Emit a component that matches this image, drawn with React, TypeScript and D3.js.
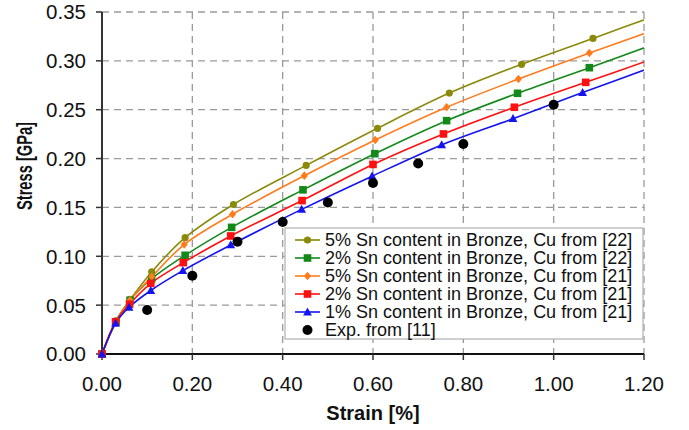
import * as d3 from 'd3';

// series data (strain in %, stress in GPa)
const olStrain = [0, 0.031, 0.063, 0.11, 0.184, 0.291, 0.452, 0.61, 0.769, 0.929, 1.087, 1.245];
const olStress = [0, 0.034, 0.056, 0.084, 0.119, 0.153, 0.193, 0.231, 0.267, 0.2965, 0.323, 0.3495];
const grStrain = [0, 0.031, 0.062, 0.11, 0.184, 0.287, 0.445, 0.604, 0.763, 0.92, 1.079, 1.237];
const grStress = [0, 0.033, 0.055, 0.077, 0.101, 0.1296, 0.168, 0.205, 0.2388, 0.2668, 0.293, 0.3195];
const orStrain = [0, 0.031, 0.062, 0.11, 0.182, 0.289, 0.448, 0.605, 0.763, 0.922, 1.079, 1.237];
const orStress = [0, 0.033, 0.055, 0.079, 0.112, 0.143, 0.1825, 0.219, 0.2525, 0.2814, 0.308, 0.334];
const rdStrain = [0, 0.03, 0.061, 0.108, 0.18, 0.285, 0.443, 0.6, 0.756, 0.913, 1.071, 1.229];
const rdStress = [0, 0.033, 0.051, 0.0723, 0.0935, 0.1208, 0.157, 0.194, 0.2252, 0.2525, 0.278, 0.3035];
const blStrain = [0, 0.03, 0.06, 0.108, 0.179, 0.285, 0.442, 0.598, 0.752, 0.91, 1.064, 1.218];
const blStress = [0, 0.0314, 0.0478, 0.065, 0.0853, 0.1116, 0.148, 0.182, 0.214, 0.2408, 0.2675, 0.2935];

const expStrain = [0.1, 0.2, 0.3, 0.4, 0.5, 0.6, 0.7, 0.8, 1.0];
const expStress = [0.045, 0.08, 0.115, 0.135, 0.155, 0.175, 0.195, 0.215, 0.255];

const xTicks = [0, 0.2, 0.4, 0.6, 0.8, 1.0, 1.2];
const yTicks = [0, 0.05, 0.1, 0.15, 0.2, 0.25, 0.3, 0.35];

const series = [
  { name: '5% Sn content in Bronze, Cu from [22]', color: '#8a8a0a', shape: 'circle', xs: olStrain, ys: olStress },
  { name: '2% Sn content in Bronze, Cu from [22]', color: '#13891a', shape: 'square', xs: grStrain, ys: grStress },
  { name: '5% Sn content in Bronze, Cu from [21]', color: '#ff7b1c', shape: 'diamond', xs: orStrain, ys: orStress },
  { name: '2% Sn content in Bronze, Cu from [21]', color: '#ff1010', shape: 'square', xs: rdStrain, ys: rdStress },
  { name: '1% Sn content in Bronze, Cu from [21]', color: '#1414f0', shape: 'triangle', xs: blStrain, ys: blStress },
];

const W = 689, H = 430;
const L = 102, R = 644, T = 12, B = 354;
const font = 'Liberation Sans, Arial, sans-serif';

function Marker({ shape, color, x, y }: { shape: string; color: string; x: number; y: number }) {
  if (shape === 'circle') return <circle cx={x} cy={y} r={3.6} fill={color} />;
  if (shape === 'square') return <rect x={x - 3.8} y={y - 3.8} width={7.6} height={7.6} fill={color} />;
  if (shape === 'diamond')
    return <path d={`M${x},${y - 4.3}L${x + 3.6},${y}L${x},${y + 4.3}L${x - 3.6},${y}Z`} fill={color} />;
  return <path d={`M${x},${y - 4.6}L${x + 4.4},${y + 3.4}L${x - 4.4},${y + 3.4}Z`} fill={color} />;
}

export default function App() {
  const x = d3.scaleLinear().domain([0, 1.2]).range([L, R]);
  const y = d3.scaleLinear().domain([0, 0.35]).range([B, T]);
  const line = d3.line<[number, number]>()
    .x(d => x(d[0]))
    .y(d => y(d[1]))
    .curve(d3.curveCatmullRom.alpha(0.5));

  const legendRows = [...series.map(s => ({ name: s.name, color: s.color, shape: s.shape, exp: false })),
    { name: 'Exp. from [11]', color: '#000', shape: 'circle', exp: true }];

  return (
    <svg width={W} height={H} style={{ position: 'absolute', left: 0, top: 0, background: '#fff' }} fontFamily={font}>
      <defs>
        <clipPath id="plot"><rect x={L} y={T - 2} width={R - L} height={B - T + 2} /></clipPath>
      </defs>
      {/* grid */}
      {yTicks.map(t => (
        <line key={'gy' + t} x1={L} x2={R} y1={y(t)} y2={y(t)} stroke="#9a9a9a" strokeDasharray="7,5" strokeWidth={1.3} />
      ))}
      {xTicks.map(t => (
        <line key={'gx' + t} x1={x(t)} x2={x(t)} y1={T} y2={B} stroke="#9a9a9a" strokeDasharray="7,5" strokeWidth={1.3} />
      ))}
      {/* axes */}
      <line x1={L} x2={L} y1={T} y2={B} stroke="#333" strokeWidth={2} />
      <line x1={L} x2={R} y1={B} y2={B} stroke="#111" strokeWidth={2} />
      {yTicks.map(t => (
        <g key={'ty' + t}>
          <line x1={L - 6} x2={L} y1={y(t)} y2={y(t)} stroke="#333" strokeWidth={1.5} />
          <text x={86} y={y(t)} dy="0.36em" textAnchor="end" fontSize={20.5} fill="#111">{t.toFixed(2)}</text>
        </g>
      ))}
      {xTicks.map(t => (
        <g key={'tx' + t}>
          <line x1={x(t)} x2={x(t)} y1={B} y2={B + 6} stroke="#333" strokeWidth={1.5} />
          <text x={x(t)} y={391} textAnchor="middle" fontSize={20.5} fill="#111">{t.toFixed(2)}</text>
        </g>
      ))}
      <text x={(L + R) / 2} y={420} textAnchor="middle" fontSize={20} fontWeight="bold" fill="#111">Strain [%]</text>
      <text transform={`translate(32,166) rotate(-90)`} textAnchor="middle" fontSize={21.5} fontWeight="bold" fill="#111"
        textLength={88} lengthAdjust="spacingAndGlyphs">Stress [GPa]</text>

      {/* series */}
      <g clipPath="url(#plot)">
        {series.map(s => (
          <path key={s.name} d={line(s.xs.map((v, i) => [v, s.ys[i]] as [number, number])) || ''}
            fill="none" stroke={s.color} strokeWidth={1.6} />
        ))}
      </g>
      {series.map(s => (
        <g key={'m' + s.name}>
          {s.xs.map((v, i) => v <= 1.2 ? (
            <Marker key={i} shape={s.shape} color={s.color} x={x(v)} y={y(s.ys[i])} />
          ) : null)}
        </g>
      ))}
      {expStrain.map((v, i) => (
        <circle key={'e' + i} cx={x(v)} cy={y(expStress[i])} r={5} fill="#000" />
      ))}

      {/* legend */}
      <rect x={285} y={228} width={358} height={111} fill="#fff" stroke="#b0b0b0" strokeWidth={1.2} />
      {legendRows.map((r, i) => {
        const ry = 240 + i * 18;
        return (
          <g key={'l' + i}>
            {!r.exp && <line x1={295} x2={320} y1={ry} y2={ry} stroke={r.color} strokeWidth={1.6} />}
            {r.exp
              ? <circle cx={307.5} cy={ry} r={5} fill="#000" />
              : <Marker shape={r.shape} color={r.color} x={307.5} y={ry} />}
            <text x={325} y={ry} dy="0.36em" fontSize={18} fill="#111">{r.name}</text>
          </g>
        );
      })}
    </svg>
  );
}
